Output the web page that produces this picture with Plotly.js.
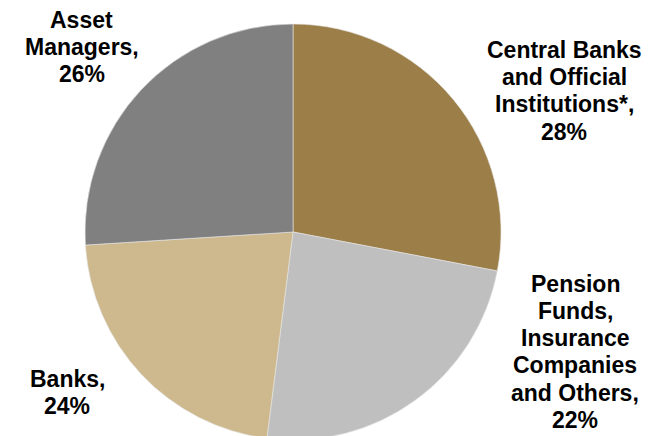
<!DOCTYPE html>
<html>
<head>
<meta charset="utf-8">
<script src="https://cdn.plot.ly/plotly-3.0.1.min.js"></script>
<style>
html,body{margin:0;padding:0;overflow:hidden;background:#fff;}
#chart{width:659px;height:444px;}
</style>
</head>
<body>
<div id="chart"></div>
<script>
// Data (clockwise from 12 o'clock)
const categories = [
  "Central Banks<br>and Official<br>Institutions*,",
  "Pension<br>Funds,<br>Insurance<br>Companies<br>and Others,",
  "Banks,",
  "Asset<br>Managers,"
];
const sliceValues = [28, 24, 22, 26];          // slice sizes as drawn
const labelPercents = ["28%", "22%", "24%", "26%"]; // percentages as printed
const colors = ["#9C7E48", "#BFBFBF", "#CDB98D", "#808080"];

const W = 659, H = 444;
const FS = 23, LINE = 27.2;
// label anchor: centre x and first-line baseline (px)
const labelPos = [
  {x: 564, y: 58},
  {x: 575, y: 291.7},
  {x: 67,  y: 387},
  {x: 81.5, y: 28}
];

const annotations = [];
categories.forEach((c, i) => {
  const lines = c.split("<br>").concat([labelPercents[i]]);
  lines.forEach((ln, k) => {
    const base = labelPos[i].y + k * LINE;
    annotations.push({
      xref: "paper", yref: "paper",
      x: labelPos[i].x / W,
      y: 1 - (base - 8) / H,
      xanchor: "center", yanchor: "middle",
      text: "<b>" + ln + "</b>",
      showarrow: false,
      font: {family: "Liberation Sans, Arial, sans-serif", size: FS, color: "#000"}
    });
  });
});

const cx = 293, cy = 232, r = 208;
const trace = {
  type: "pie",
  values: sliceValues,
  labels: categories,
  sort: false,
  direction: "clockwise",
  rotation: 0,
  textinfo: "none",
  hoverinfo: "none",
  marker: {colors: colors, line: {color: "#E6E6E6", width: 0.6}},
  domain: {x: [(cx - r) / W, (cx + r) / W], y: [1 - (cy + r) / H, 1 - (cy - r) / H]},
  showlegend: false
};

Plotly.newPlot("chart", [trace], {
  width: W, height: H,
  margin: {l: 0, r: 0, t: 0, b: 0},
  paper_bgcolor: "#fff",
  showlegend: false,
  annotations: annotations
}, {staticPlot: true});
</script>
</body>
</html>
